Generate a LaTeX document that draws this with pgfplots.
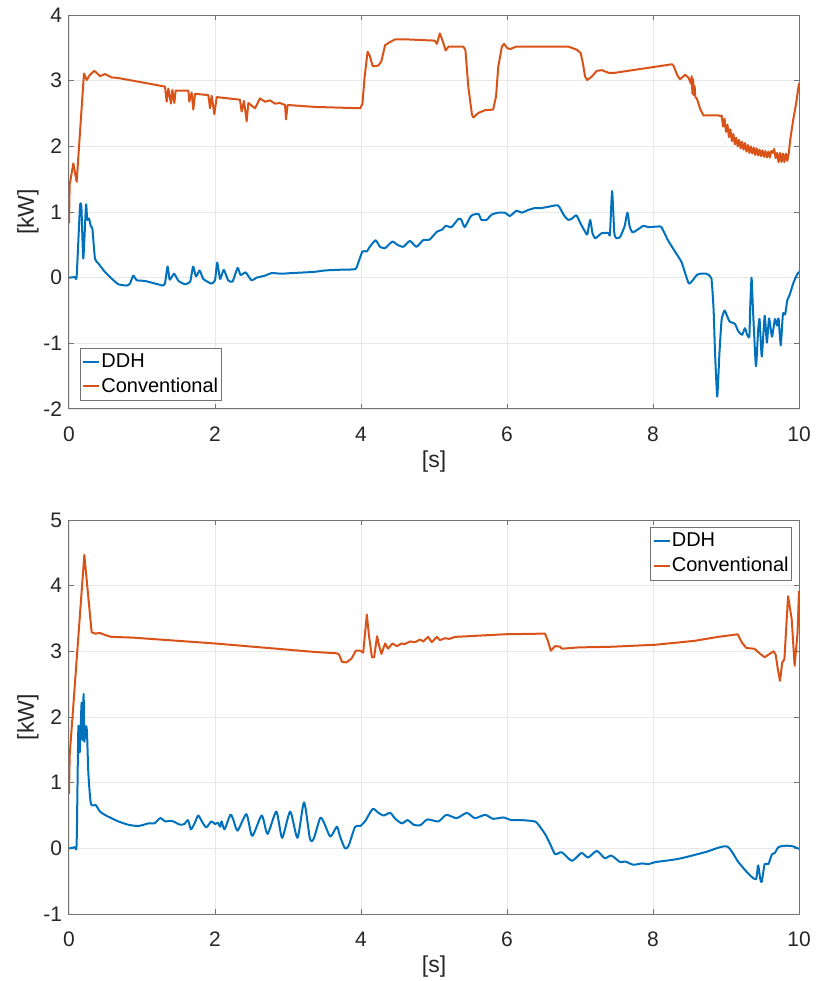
\documentclass[border=0pt]{standalone}
\usepackage{fontspec}
\setmainfont{Liberation Sans}
\usepackage{pgfplots}
\pgfplotsset{compat=1.18}

\definecolor{mblue}{rgb}{0,0.447,0.741}
\definecolor{morange}{rgb}{0.850,0.325,0.098}
\definecolor{axgray}{gray}{0.45}
\definecolor{txtgray}{gray}{0.15}

\pgfplotsset{
  powerstyle/.style={
    scale only axis,
    width=365pt, height=197pt,
    xmin=0, xmax=10,
    xtick={0,2,...,10},
    grid=major,
    major grid style={line width=0.4pt, draw=black!9},
    axis line style={draw=axgray, line width=0.5pt},
    tick style={draw=axgray, line width=0.5pt},
    tick align=inside, tick pos=both,
    major tick length=2.6pt,
    /pgf/number format/assume math mode=true,
    ticklabel style={font=\fontsize{10.5}{12}\selectfont, text=txtgray},
    xticklabel style={yshift=-5.5pt},
    label style={font=\fontsize{11.5}{13}\selectfont, text=txtgray},
    xlabel={[s]}, ylabel={[kW]},
    xlabel style={at={(axis description cs:0.5,0)}, anchor=center, yshift=-26.5pt},
    ylabel style={at={(axis description cs:0,0.5)}, anchor=center, yshift=20.5pt},
    legend cell align=left,
    legend image code/.code={\draw[#1] (0pt,0pt) -- (8pt,0pt);},
    legend style={font=\fontsize{10}{12}\selectfont, draw=axgray, fill=white,
      inner xsep=1pt, inner ysep=0.8pt, row sep=0pt,
      nodes={inner xsep=0.5pt, inner ysep=1.9pt}},
    every axis plot/.append style={line width=1pt, line join=round},
  }
}

\begin{document}
\begin{tikzpicture}
% ---------------- upper panel ----------------
\begin{axis}[powerstyle, at={(0,252.5pt)}, anchor=south west,
  ymin=-2, ymax=4, ytick={-2,-1,...,4},
  legend style={at={(0,0)}, anchor=south west, xshift=5.5pt, yshift=4pt}]
\addplot[mblue, smooth, tension=0.3] coordinates {
(0,0) (0.08,0.01) (0.105,0.02) (0.15,1.08) (0.17,1.07) (0.196,0.29) (0.233,1.11)
(0.25,0.88) (0.274,0.90) (0.30,0.78) (0.32,0.75) (0.356,0.29) (0.40,0.22) (0.49,0.09)
(0.58,-0.01) (0.676,-0.10) (0.79,-0.12) (0.835,-0.09) (0.88,0.03) (0.93,-0.04)
(1.04,-0.05) (1.18,-0.09) (1.29,-0.12) (1.315,-0.09) (1.35,0.17) (1.38,-0.03)
(1.44,0.06) (1.50,-0.05) (1.59,-0.10) (1.66,-0.06) (1.70,0.17) (1.74,0.02) (1.79,0.11)
(1.84,-0.02) (1.95,-0.09) (2.00,-0.04) (2.03,0.23) (2.07,-0.02) (2.12,0.12) (2.18,-0.04)
(2.24,-0.06) (2.31,0.15) (2.35,0.04) (2.42,0.08) (2.50,-0.04) (2.57,0.0) (2.68,0.03)
(2.78,0.07) (2.91,0.06) (3.05,0.07) (3.23,0.08) (3.37,0.09) (3.51,0.11) (3.69,0.12)
(3.92,0.13) (3.96,0.22) (4.02,0.40) (4.08,0.40) (4.12,0.47) (4.20,0.57) (4.26,0.47)
(4.33,0.45) (4.43,0.55) (4.50,0.50) (4.58,0.47) (4.67,0.56) (4.76,0.47) (4.85,0.57)
(4.94,0.58) (5.04,0.70) (5.11,0.73) (5.16,0.79) (5.24,0.77) (5.33,0.89) (5.37,0.89)
(5.42,0.77) (5.50,0.93) (5.54,0.96) (5.61,0.97) (5.65,0.88) (5.72,0.88) (5.79,0.96)
(5.88,0.99) (5.97,0.99) (6.04,0.94) (6.13,1.02) (6.20,0.99) (6.29,1.03) (6.38,1.06)
(6.47,1.06) (6.57,1.08) (6.70,1.10) (6.78,0.95) (6.84,0.88) (6.89,0.90) (6.95,0.95)
(7.01,0.82) (7.08,0.68) (7.10,0.66) (7.14,0.88) (7.17,0.68) (7.21,0.60) (7.30,0.68)
(7.39,0.68) (7.41,0.66) (7.44,1.32) (7.47,0.68) (7.50,0.60) (7.55,0.62) (7.61,0.78)
(7.65,0.99) (7.68,0.78) (7.72,0.69) (7.80,0.74) (7.87,0.79) (7.94,0.77) (8.10,0.78)
(8.13,0.74) (8.21,0.56) (8.30,0.40) (8.39,0.24) (8.44,0.07) (8.49,-0.09) (8.53,-0.06)
(8.60,0.04) (8.65,0.06) (8.73,0.06) (8.80,-0.01) (8.83,-0.49) (8.85,-1.15) (8.88,-1.81)
(8.91,-1.15) (8.94,-0.64) (8.98,-0.50) (9.01,-0.57) (9.05,-0.67) (9.12,-0.70)
(9.17,-0.82) (9.22,-0.87) (9.26,-0.77) (9.29,-0.87) (9.32,-0.90) (9.33,-0.50) (9.35,0.0)
(9.37,-0.50) (9.41,-1.35) (9.44,-0.80) (9.46,-0.63) (9.49,-1.20) (9.53,-0.58)
(9.56,-0.99) (9.59,-0.62) (9.63,-0.90) (9.67,-0.63) (9.70,-0.73) (9.72,-0.62)
(9.75,-1.03) (9.78,-0.55) (9.81,-0.56) (9.84,-0.34) (9.87,-0.27) (9.92,-0.09)
(9.97,0.04) (10.0,0.09)
};
\addlegendentry{DDH}
\addplot[morange] coordinates {
(0,0.83) (0.009,1.41) (0.059,1.74) (0.105,1.46) (0.205,3.11) (0.242,3.01) (0.288,3.09)
(0.347,3.15) (0.425,3.07) (0.493,3.10) (0.584,3.05) (0.676,3.04) (1.315,2.91)
(1.338,2.68) (1.361,2.88) (1.397,2.65) (1.416,2.86) (1.443,2.66) (1.461,2.85)
(1.635,2.85) (1.648,2.68) (1.680,2.82) (1.703,2.56) (1.726,2.80) (1.909,2.78)
(1.932,2.58) (1.954,2.77) (1.991,2.49) (2.023,2.75) (2.342,2.71) (2.365,2.53)
(2.397,2.69) (2.434,2.38) (2.457,2.66) (2.548,2.58) (2.616,2.73) (2.685,2.68)
(2.753,2.70) (2.822,2.65) (2.890,2.66) (2.959,2.63) (2.973,2.41) (2.995,2.63)
(3.370,2.60) (3.99,2.58) (4.02,2.65) (4.05,3.06) (4.09,3.44) (4.12,3.38) (4.16,3.22)
(4.24,3.23) (4.28,3.30) (4.33,3.54) (4.40,3.59) (4.47,3.63) (4.60,3.63) (5.01,3.61)
(5.04,3.56) (5.08,3.72) (5.12,3.60) (5.16,3.46) (5.20,3.52) (5.40,3.52) (5.43,3.47)
(5.47,2.91) (5.52,2.48) (5.54,2.44) (5.61,2.51) (5.70,2.55) (5.81,2.56) (5.85,2.76)
(5.88,3.21) (5.93,3.52) (5.96,3.56) (6.00,3.50) (6.04,3.48) (6.13,3.52) (6.84,3.52)
(6.96,3.47) (7.01,3.42) (7.04,3.26) (7.07,3.06) (7.10,3.01) (7.16,3.06) (7.23,3.15)
(7.30,3.16) (7.39,3.12) (7.48,3.12) (8.26,3.25) (8.28,3.23) (8.33,3.09) (8.37,3.02)
(8.44,3.09) (8.49,3.04) (8.52,2.95) (8.53,3.07) (8.54,2.80) (8.55,3.02) (8.56,2.78)
(8.57,2.92) (8.58,2.75) (8.60,2.73) (8.65,2.56) (8.69,2.47) (8.90,2.47) (8.93,2.46)
(8.94,2.47) (8.96,2.30) (8.98,2.42) (9.00,2.22) (9.02,2.33) (9.04,2.14) (9.06,2.26)
(9.08,2.08) (9.10,2.19) (9.12,2.03) (9.14,2.13) (9.16,2.00) (9.18,2.10) (9.20,1.97)
(9.22,2.07) (9.24,1.95) (9.26,2.05) (9.28,1.92) (9.30,2.02) (9.32,1.90) (9.34,2.00)
(9.36,1.89) (9.38,1.98) (9.40,1.87) (9.42,1.97) (9.44,1.86) (9.46,1.95) (9.48,1.85)
(9.50,1.94) (9.52,1.84) (9.54,1.93) (9.56,1.83) (9.58,1.92) (9.60,1.83) (9.62,1.93)
(9.64,1.90) (9.66,1.96) (9.68,1.82) (9.70,1.90) (9.72,1.76) (9.74,1.90) (9.76,1.76)
(9.78,1.89) (9.80,1.76) (9.82,1.89) (9.84,1.78) (9.86,1.90) (9.88,2.10) (9.92,2.40)
(9.96,2.65) (10.0,2.96)
};
\addlegendentry{Conventional}
\end{axis}

% ---------------- lower panel ----------------
\begin{axis}[powerstyle, at={(0,0)}, anchor=south west,
  ymin=-1, ymax=5, ytick={-1,0,...,5},
  legend style={at={(1,1)}, anchor=north east, xshift=-3.5pt, yshift=-3.5pt}]
\addplot[mblue, smooth, tension=0.4] coordinates {
(0,0) (0.08,0.02) (0.105,0.09) (0.128,1.84) (0.146,1.46) (0.16,1.85) (0.174,2.22)
(0.187,1.65) (0.20,2.35) (0.21,1.63) (0.228,1.86) (0.246,1.78) (0.265,1.15) (0.30,0.68)
(0.365,0.66) (0.425,0.56) (0.49,0.51) (0.58,0.46) (0.676,0.41) (0.81,0.36) (0.95,0.34)
(1.09,0.38) (1.17,0.38) (1.25,0.46) (1.32,0.41) (1.40,0.42) (1.45,0.40) (1.52,0.36)
(1.58,0.37) (1.63,0.43) (1.67,0.29) (1.72,0.38) (1.77,0.50) (1.82,0.41) (1.88,0.32)
(1.95,0.41) (2.00,0.37) (2.04,0.39) (2.07,0.33) (2.09,0.41) (2.13,0.29) (2.21,0.51)
(2.25,0.44) (2.31,0.27) (2.43,0.52) (2.51,0.19) (2.64,0.50) (2.72,0.22) (2.84,0.56)
(2.92,0.16) (3.03,0.56) (3.13,0.16) (3.22,0.70) (3.30,0.15) (3.35,0.14) (3.44,0.46)
(3.49,0.40) (3.58,0.18) (3.67,0.33) (3.71,0.19) (3.78,0.0) (3.83,0.04) (3.92,0.33)
(3.99,0.34) (4.06,0.42) (4.16,0.60) (4.24,0.54) (4.31,0.50) (4.40,0.54) (4.47,0.45)
(4.56,0.38) (4.64,0.43) (4.72,0.36) (4.81,0.35) (4.91,0.44) (5.06,0.41) (5.17,0.51)
(5.31,0.46) (5.45,0.54) (5.56,0.46) (5.70,0.51) (5.81,0.45) (5.95,0.47) (6.06,0.43)
(6.20,0.43) (6.38,0.41) (6.43,0.36) (6.52,0.22) (6.59,0.07) (6.66,-0.09) (6.75,-0.06)
(6.89,-0.19) (7.02,-0.07) (7.11,-0.14) (7.23,-0.04) (7.34,-0.15) (7.43,-0.11)
(7.55,-0.21) (7.62,-0.20) (7.73,-0.25) (7.85,-0.23) (7.94,-0.24) (8.03,-0.21)
(8.35,-0.16) (8.71,-0.06) (9.01,0.03) (9.17,-0.21) (9.31,-0.39) (9.41,-0.47)
(9.44,-0.26) (9.47,-0.47) (9.49,-0.51) (9.53,-0.24) (9.58,-0.24) (9.63,-0.09)
(9.67,-0.07) (9.72,0.02) (9.83,0.04) (9.92,0.03) (10.0,-0.01)
};
\addlegendentry{DDH}
\addplot[morange] coordinates {
(0,0.83) (0.009,1.41) (0.21,4.47) (0.31,3.29) (0.36,3.27) (0.425,3.28) (0.49,3.25)
(0.58,3.22) (0.86,3.21) (2.0,3.12) (3.37,2.99) (3.67,2.97) (3.70,2.95) (3.74,2.84)
(3.80,2.83) (3.87,2.89) (3.93,3.01) (3.99,3.01) (4.03,2.98) (4.08,3.56) (4.11,3.23)
(4.15,2.91) (4.18,2.91) (4.22,3.23) (4.25,3.08) (4.28,2.96) (4.33,3.12) (4.37,3.04)
(4.43,3.12) (4.49,3.08) (4.56,3.12) (4.60,3.11) (4.67,3.15) (4.74,3.14) (4.81,3.18)
(4.85,3.15) (4.92,3.22) (4.97,3.14) (5.04,3.22) (5.08,3.17) (5.15,3.20) (5.21,3.19)
(5.29,3.22) (5.97,3.26) (6.52,3.27) (6.56,3.16) (6.60,3.01) (6.66,3.08) (6.73,3.07)
(6.75,3.04) (6.98,3.06) (7.43,3.07) (8.03,3.10) (8.57,3.16) (8.89,3.22) (9.16,3.26)
(9.22,3.13) (9.28,3.05) (9.39,3.04) (9.46,2.97) (9.53,2.91) (9.65,3.00) (9.68,2.95)
(9.71,2.73) (9.74,2.55) (9.77,2.83) (9.80,2.88) (9.85,3.84) (9.90,3.49) (9.94,2.78)
(9.98,3.28) (10.0,3.92)
};
\addlegendentry{Conventional}
\end{axis}

\pgfresetboundingbox
\path (-34.5pt,-33.5pt) rectangle (373pt,457pt);
\end{tikzpicture}
\end{document}
